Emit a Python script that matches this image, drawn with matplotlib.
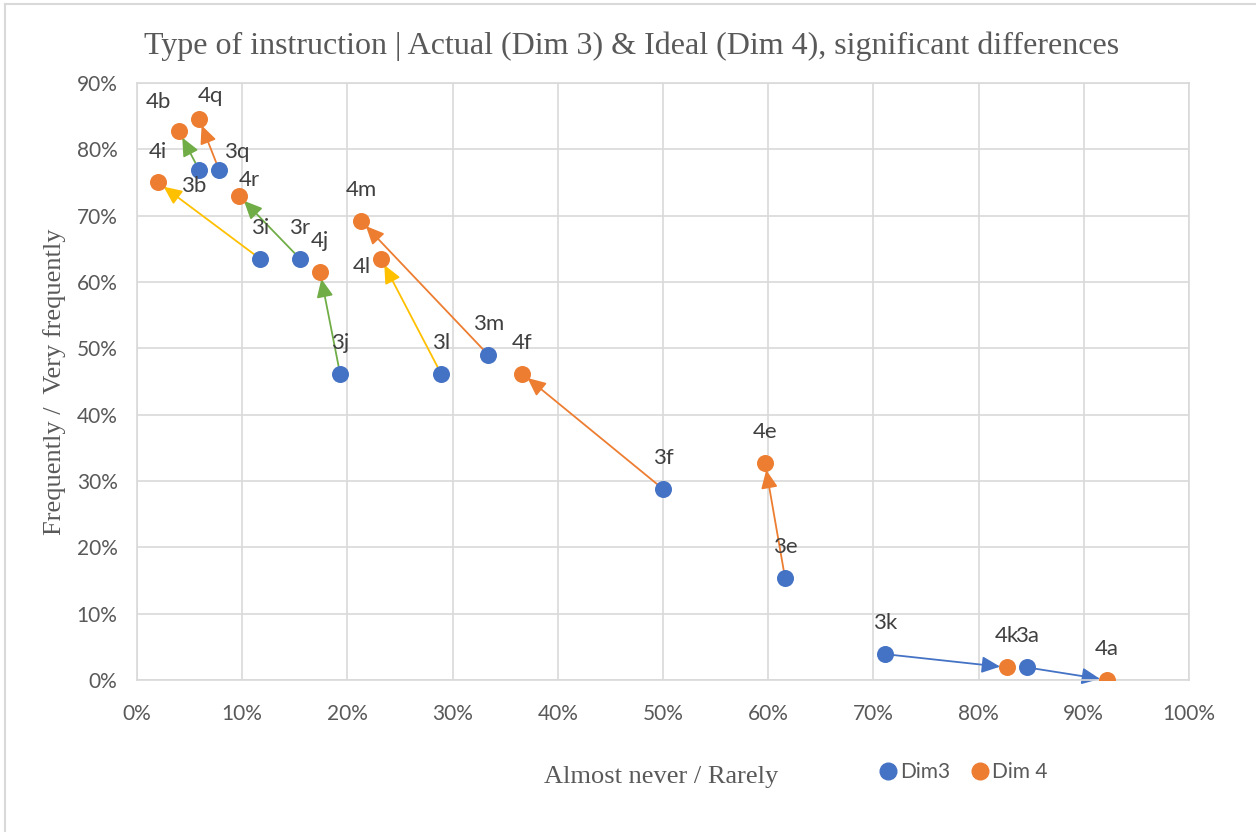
import matplotlib
matplotlib.use("Agg")
import matplotlib.pyplot as plt
from matplotlib.lines import Line2D
from matplotlib.ticker import PercentFormatter, MultipleLocator

# ---- data ----
labels3 = ["3b", "3q", "3i", "3r", "3j", "3l", "3m", "3f", "3e", "3k", "3a"]
x3 = [5.9, 7.8, 11.7, 15.5, 19.3, 28.9, 33.4, 50.0, 61.6, 71.1, 84.6]
y3 = [76.9, 76.9, 63.5, 63.5, 46.2, 46.2, 49.0, 28.8, 15.4, 3.9, 1.9]

labels4 = ["4b", "4q", "4i", "4r", "4j", "4l", "4m", "4f", "4e", "4k", "4a"]
x4 = [4.0, 5.9, 2.0, 9.7, 17.4, 23.2, 21.3, 36.6, 59.7, 82.7, 92.2]
y4 = [82.7, 84.6, 75.0, 73.0, 61.5, 63.5, 69.2, 46.2, 32.7, 1.9, 0.0]

# arrow colour group per pair (3x -> 4x)
arrow_group = ["green", "orange", "yellow", "green", "green", "yellow",
               "orange", "orange", "orange", "blue", "blue"]

BLUE = "#4472C4"
ORANGE = "#ED7D31"
GREEN = "#70AD47"
YELLOW = "#FFC000"
group_colors = {"green": GREEN, "orange": ORANGE, "yellow": YELLOW, "blue": BLUE}

# label offsets in pixels (default above)
label_offsets = {
    "3b": (-5, -16), "3q": (18, 18), "4r": (10, 16), "4l": (-19, -8),
    "4b": (-21, 29), "4q": (11, 23),
}
DEFAULT_OFF = (0, 31)

fig = plt.figure(figsize=(12.56, 8.32), dpi=100)
ax = fig.add_axes([137 / 1256, 1 - 680 / 832, (1189 - 137) / 1256, (680 - 83) / 832])

ax.set_xlim(0, 100)
ax.set_ylim(0, 90)
ax.xaxis.set_major_locator(MultipleLocator(10))
ax.yaxis.set_major_locator(MultipleLocator(10))
ax.xaxis.set_major_formatter(PercentFormatter(decimals=0))
ax.yaxis.set_major_formatter(PercentFormatter(decimals=0))
ax.grid(True, color="#D9D9D9", linewidth=1.2)
ax.set_axisbelow(True)
for s in ax.spines.values():
    s.set_color("#D9D9D9")
    s.set_linewidth(1.2)
ax.tick_params(length=0, labelsize=15, colors="#595959")
ax.tick_params(axis="x", pad=17)
ax.tick_params(axis="y", pad=14)
for lab in ax.get_xticklabels() + ax.get_yticklabels():
    lab.set_fontfamily("Lato")

# arrows
for i in range(len(x3)):
    c = group_colors[arrow_group[i]]
    ax.annotate("", xy=(x4[i], y4[i]), xytext=(x3[i], y3[i]),
                arrowprops=dict(arrowstyle="-|>,head_length=1.1,head_width=0.5",
                                color=c, lw=1.3, shrinkA=0, shrinkB=5),
                zorder=2)

ax.scatter(x3, y3, s=150, color=BLUE, zorder=3, label="Dim3", linewidths=0)
ax.scatter(x4, y4, s=150, color=ORANGE, zorder=3, label="Dim 4", linewidths=0)

for lab, xx, yy in list(zip(labels3, x3, y3)) + list(zip(labels4, x4, y4)):
    dx, dy = label_offsets.get(lab, DEFAULT_OFF)
    ax.annotate(lab, (xx, yy), xytext=(dx, dy), textcoords="offset pixels",
                ha="center", va="center", fontsize=16, color="#404040",
                fontfamily="Lato", zorder=4)

fig.text(632 / 1256, 1 - 46 / 832,
         "Type of instruction | Actual (Dim 3) & Ideal (Dim 4), significant differences",
         ha="center", va="center", fontsize=23, color="#595959",
         fontfamily="Liberation Serif")
fig.text(661 / 1256, 1 - 777 / 832, "Almost never / Rarely", ha="center", va="center",
         fontsize=19, color="#595959", fontfamily="Liberation Serif")
fig.text(55 / 1256, 1 - 382 / 832, "Frequently /  Very frequently", ha="center", va="center",
         rotation=90, fontsize=19, color="#595959", fontfamily="Liberation Serif")

handles = [Line2D([], [], marker="o", linestyle="", color=BLUE, markersize=12),
           Line2D([], [], marker="o", linestyle="", color=ORANGE, markersize=12)]
leg = fig.legend(handles, ["Dim3", "Dim 4"], loc="center", ncol=2,
                 bbox_to_anchor=(962 / 1256, 1 - 772 / 832), frameon=False,
                 handletextpad=0.0, columnspacing=0.9, handlelength=1.1,
                 prop={"family": "Lato", "size": 15})
for t in leg.get_texts():
    t.set_color("#595959")

# chart outer border (top and left)
fig.add_artist(Line2D([5 / 1256, 5 / 1256], [0, 1 - 4 / 832], color="#D9D9D9", lw=1.5,
                      transform=fig.transFigure))
fig.add_artist(Line2D([5 / 1256, 1], [1 - 4 / 832, 1 - 4 / 832], color="#D9D9D9", lw=1.5,
                      transform=fig.transFigure))

fig.savefig("out.png", dpi=100)
